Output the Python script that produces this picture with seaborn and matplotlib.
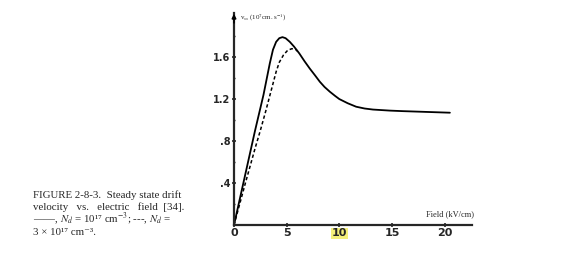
import matplotlib
matplotlib.use("Agg")
import matplotlib.pyplot as plt
import seaborn as sns
import pandas as pd

# Solid curve: Nd = 1e17 cm^-3
field_solid = [0, 1, 2, 2.8, 3.4, 3.7, 4.0, 4.3, 4.6, 4.9, 5.3, 5.7, 6.2,
               6.7, 7.2, 7.7, 8.15, 8.6, 9.1, 9.6, 10, 10.8, 11.6, 12.4, 13.2,
               14, 14.8, 16, 17.5, 19, 20.5]
v_solid = [0, 0.45, 0.90, 1.24, 1.54, 1.67, 1.745, 1.78, 1.79, 1.78, 1.745,
           1.70, 1.635, 1.56, 1.49, 1.425, 1.365, 1.315, 1.27, 1.23, 1.20,
           1.16, 1.127, 1.11, 1.10, 1.095, 1.09, 1.085, 1.08, 1.075, 1.07]
# Dashed curve: Nd = 3e17 cm^-3
field_dashed = [0, 1, 2, 2.5, 3, 3.5, 4.0, 4.3, 4.7, 5.1, 5.5, 5.9, 6.2]
v_dashed = [0, 0.37, 0.73, 0.90, 1.08, 1.27, 1.46, 1.55, 1.62, 1.665, 1.68,
            1.67, 1.635]

x_ticks = [0, 5, 10, 15, 20]
x_tick_labels = ["0", "5", "10", "15", "20"]
y_ticks = [0.4, 0.8, 1.2, 1.6]
y_tick_labels = [".4", ".8", "1.2", "1.6"]

caption_lines = ["FIGURE 2-8-3.  Steady state drift",
                 "velocity   vs.   electric   field  [34].",
                 "——, $N_d$ = 10¹⁷ cm$^{-3}$; ---, $N_d$ =",
                 "3 × 10¹⁷ cm⁻³."]

sns.set_style("ticks")
plt.rcParams['font.family'] = ['Liberation Serif', 'DejaVu Serif']
plt.rcParams['mathtext.fontset'] = 'stix'

fig = plt.figure(figsize=(5.68, 2.54), dpi=100)
ax = fig.add_axes([234 / 568, 1 - 225 / 254, (472 - 234) / 568, (225 - 13) / 254])

df_s = pd.DataFrame({"field": field_solid, "v": v_solid})
df_d = pd.DataFrame({"field": field_dashed, "v": v_dashed})
sns.lineplot(data=df_s, x="field", y="v", ax=ax, color="black", lw=1.3)
sns.lineplot(data=df_d, x="field", y="v", ax=ax, color="black", lw=1.1,
             linestyle=(0, (2.2, 1.6)))

ax.set_xlim(0, 22.6)
ax.set_ylim(0, 2.02)
sns.despine(ax=ax)
for s in ["left", "bottom"]:
    ax.spines[s].set_linewidth(1.6)
ax.set_xticks(x_ticks)
ax.set_xticklabels(x_tick_labels, fontsize=8, fontweight="bold", family="DejaVu Sans")
ax.set_yticks(y_ticks)
ax.set_yticklabels(y_tick_labels, fontsize=7, fontweight="bold", family="DejaVu Sans")
ax.set_yticks([0.2, 0.6, 1.0, 1.4, 1.8], minor=True)
ax.tick_params(axis="both", which="major", length=3, width=1.2, direction="inout", pad=1)
ax.tick_params(axis="y", which="minor", length=2, width=1, direction="inout")
ax.xaxis.get_ticklabels()[2].set_bbox(dict(facecolor="#f4f07a", edgecolor="none", pad=0.5))
ax.set_xlabel("")
ax.set_ylabel("")

# arrow on y axis
ax.annotate("", xy=(0, 2.04), xytext=(0, 1.9), xycoords="data",
            arrowprops=dict(arrowstyle="-|>", color="black", lw=1.2,
                            mutation_scale=6), annotation_clip=False)

fig.text(240 / 568, 1 - 18 / 254, r"v$_{ss}$ (10$^7$cm. s$^{-1}$)", fontsize=5,
         va="center", ha="left")
fig.text(474 / 568, 1 - 214 / 254, "Field (kV/cm)", fontsize=6, va="center", ha="right")
for i, line in enumerate(caption_lines):
    fig.text(33 / 568, 1 - (198 + 12.3 * i) / 254, line, fontsize=7.8,
             va="baseline", ha="left")

fig.savefig("out.png", dpi=100)
